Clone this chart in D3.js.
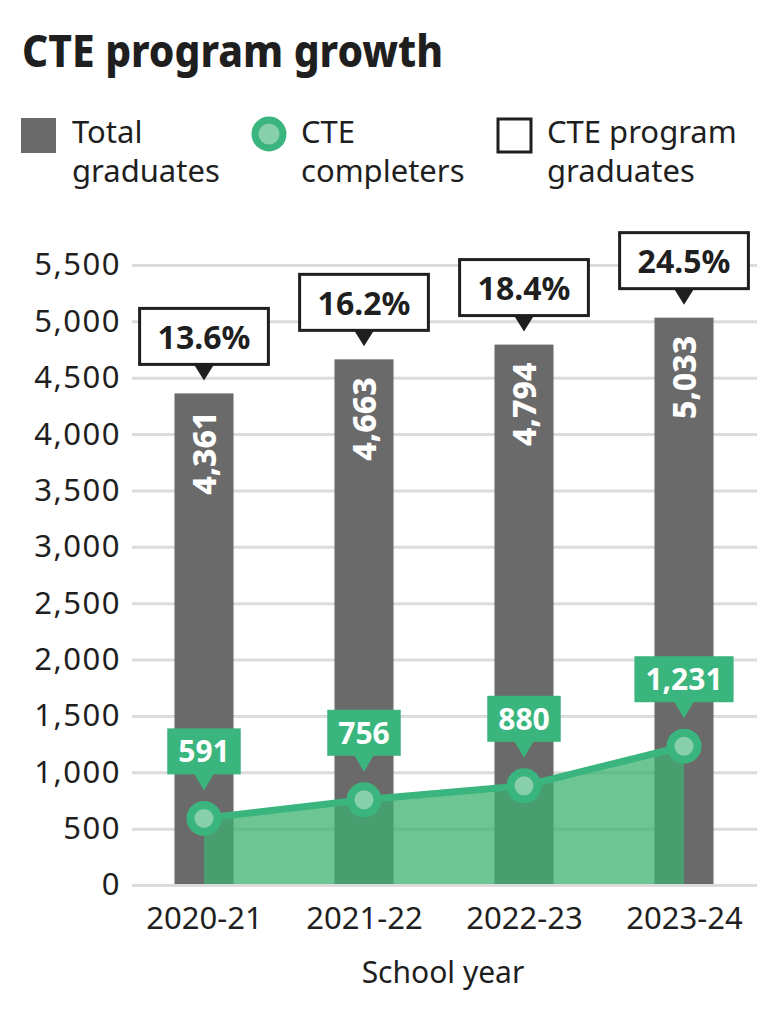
<!DOCTYPE html>
<html>
<head>
<meta charset="utf-8">
<script src="https://cdn.jsdelivr.net/npm/d3@7"></script>
<style>
  html, body { margin: 0; padding: 0; background: #fff; }
  svg { display: block; font-family: "Noto Sans", sans-serif; }
</style>
</head>
<body>
<script>
const years = ["2020-21", "2021-22", "2022-23", "2023-24"];
const totalGraduates = [4361, 4663, 4794, 5033];
const cteCompleters = [591, 756, 880, 1231];
const ctePercent = [13.6, 16.2, 18.4, 24.5];
const yTicks = [0, 500, 1000, 1500, 2000, 2500, 3000, 3500, 4000, 4500, 5000, 5500];

const W = 779, H = 1029;
const gray = "#6b6a6b";
const green = "#3bb57e";
const ink = "#1f1f1f";

const svg = d3.select("body").append("svg")
  .attr("width", W)
  .attr("height", H);

// title
svg.append("text")
  .attr("x", 22).attr("y", 67)
  .attr("font-size", 45).attr("font-weight", 800)
  .attr("fill", ink)
  .attr("textLength", 421).attr("lengthAdjust", "spacingAndGlyphs")
  .text("CTE program growth");

// legend
const legend = svg.append("g").attr("font-size", 31).attr("fill", ink);
legend.append("rect").attr("x", 21).attr("y", 118).attr("width", 35).attr("height", 35).attr("fill", gray);
legend.append("text").attr("x", 72).attr("y", 143).text("Total");
legend.append("text").attr("x", 72).attr("y", 182).text("graduates");

legend.append("circle").attr("cx", 269).attr("cy", 134).attr("r", 14).attr("fill", "#88cfae")
  .attr("stroke", green).attr("stroke-width", 7);
legend.append("text").attr("x", 301).attr("y", 143).text("CTE");
legend.append("text").attr("x", 301).attr("y", 182).text("completers");

legend.append("rect").attr("x", 498).attr("y", 119).attr("width", 33).attr("height", 33)
  .attr("fill", "#fff").attr("stroke", ink).attr("stroke-width", 3);
legend.append("text").attr("x", 547).attr("y", 143).text("CTE program");
legend.append("text").attr("x", 547).attr("y", 182).text("graduates");

// scales
const x = d3.scalePoint().domain(years).range([204, 684]);
const y = d3.scaleLinear().domain([0, 5500]).range([885, 265]);
const barW = 59;

// y axis with gridlines
const gy = svg.append("g")
  .attr("transform", "translate(132,0)")
  .call(d3.axisLeft(y)
    .tickValues(yTicks)
    .tickFormat(d3.format(","))
    .tickSizeInner(-(757 - 132))
    .tickSizeOuter(0)
    .tickPadding(11));
gy.select(".domain").remove();
gy.selectAll(".tick line").attr("stroke", "#dcdcdc").attr("stroke-width", 3);
gy.selectAll(".tick text")
  .attr("font-family", "Noto Sans").attr("font-size", 31)
  .attr("letter-spacing", 1.5).attr("fill", ink);

// x axis labels
const gx = svg.append("g")
  .attr("transform", "translate(0,885)")
  .call(d3.axisBottom(x).tickSize(0).tickPadding(22));
gx.select(".domain").remove();
gx.selectAll(".tick text")
  .attr("font-family", "Noto Sans").attr("font-size", 31).attr("fill", ink);

svg.append("text")
  .attr("x", 443).attr("y", 983)
  .attr("text-anchor", "middle")
  .attr("font-size", 30).attr("fill", ink)
  .text("School year");

// bars
svg.selectAll("rect.bar")
  .data(totalGraduates)
  .enter().append("rect")
  .attr("class", "bar")
  .attr("x", (d, i) => x(years[i]) - barW / 2)
  .attr("y", d => y(d))
  .attr("width", barW)
  .attr("height", d => y(0) - y(d) - 1)
  .attr("fill", gray);

// bar value labels (rotated)
svg.selectAll("text.barval")
  .data(totalGraduates)
  .enter().append("text")
  .attr("class", "barval")
  .attr("transform", (d, i) => `translate(${x(years[i])},${y(d) + 18}) rotate(-90)`)
  .attr("text-anchor", "end")
  .attr("dy", "0.36em")
  .attr("font-size", 32).attr("font-weight", 800).attr("fill", "#fff")
  .text(d => d3.format(",")(d));

// percent callouts
const pctG = svg.selectAll("g.pct")
  .data(ctePercent)
  .enter().append("g")
  .attr("class", "pct")
  .attr("transform", (d, i) => `translate(${x(years[i])},${y(totalGraduates[i])})`);

pctG.append("path")
  .attr("d", "M-10,-29 L10,-29 L0,-13 Z")
  .attr("fill", ink);
pctG.append("text")
  .attr("y", -56)
  .attr("dy", "0.36em")
  .attr("text-anchor", "middle")
  .attr("font-size", 32).attr("font-weight", 700).attr("fill", ink)
  .text(d => d.toFixed(1) + "%");
pctG.insert("rect", "text")
  .each(function () {
    const t = d3.select(this.parentNode).select("text").node().getComputedTextLength();
    const w = Math.max(t + 36, 128);
    d3.select(this)
      .attr("x", -w / 2).attr("y", -85)
      .attr("width", w).attr("height", 56);
  })
  .attr("fill", "#fff").attr("stroke", ink).attr("stroke-width", 3);

// area + line for CTE completers
const pts = cteCompleters.map((v, i) => [x(years[i]), y(v)]);

svg.append("path")
  .datum(pts)
  .attr("d", d3.area().x(d => d[0]).y0(y(0) - 1).y1(d => d[1]))
  .attr("fill", "rgb(60,177,110)")
  .attr("fill-opacity", 0.74);

svg.append("path")
  .datum(pts)
  .attr("d", d3.line())
  .attr("fill", "none")
  .attr("stroke", green)
  .attr("stroke-width", 7);

svg.selectAll("circle.dot")
  .data(pts)
  .enter().append("circle")
  .attr("class", "dot")
  .attr("cx", d => d[0]).attr("cy", d => d[1])
  .attr("r", 13.5)
  .attr("fill", "#88cfae")
  .attr("stroke", green).attr("stroke-width", 8);

// green value callouts
const valG = svg.selectAll("g.val")
  .data(cteCompleters)
  .enter().append("g")
  .attr("class", "val")
  .attr("transform", (d, i) => `translate(${x(years[i])},${y(d)})`);

valG.append("path")
  .attr("d", "M-10,-45 L10,-45 L0,-28 Z")
  .attr("fill", green);
valG.append("text")
  .attr("y", -67)
  .attr("dy", "0.36em")
  .attr("text-anchor", "middle")
  .attr("font-size", 30).attr("font-weight", 700).attr("fill", "#fff")
  .text(d => d3.format(",")(d));
valG.insert("rect", "text")
  .each(function () {
    const t = d3.select(this.parentNode).select("text").node().getComputedTextLength();
    const w = t + 22;
    d3.select(this)
      .attr("x", -w / 2).attr("y", -90)
      .attr("width", w).attr("height", 46);
  })
  .attr("fill", green);
</script>
</body>
</html>
